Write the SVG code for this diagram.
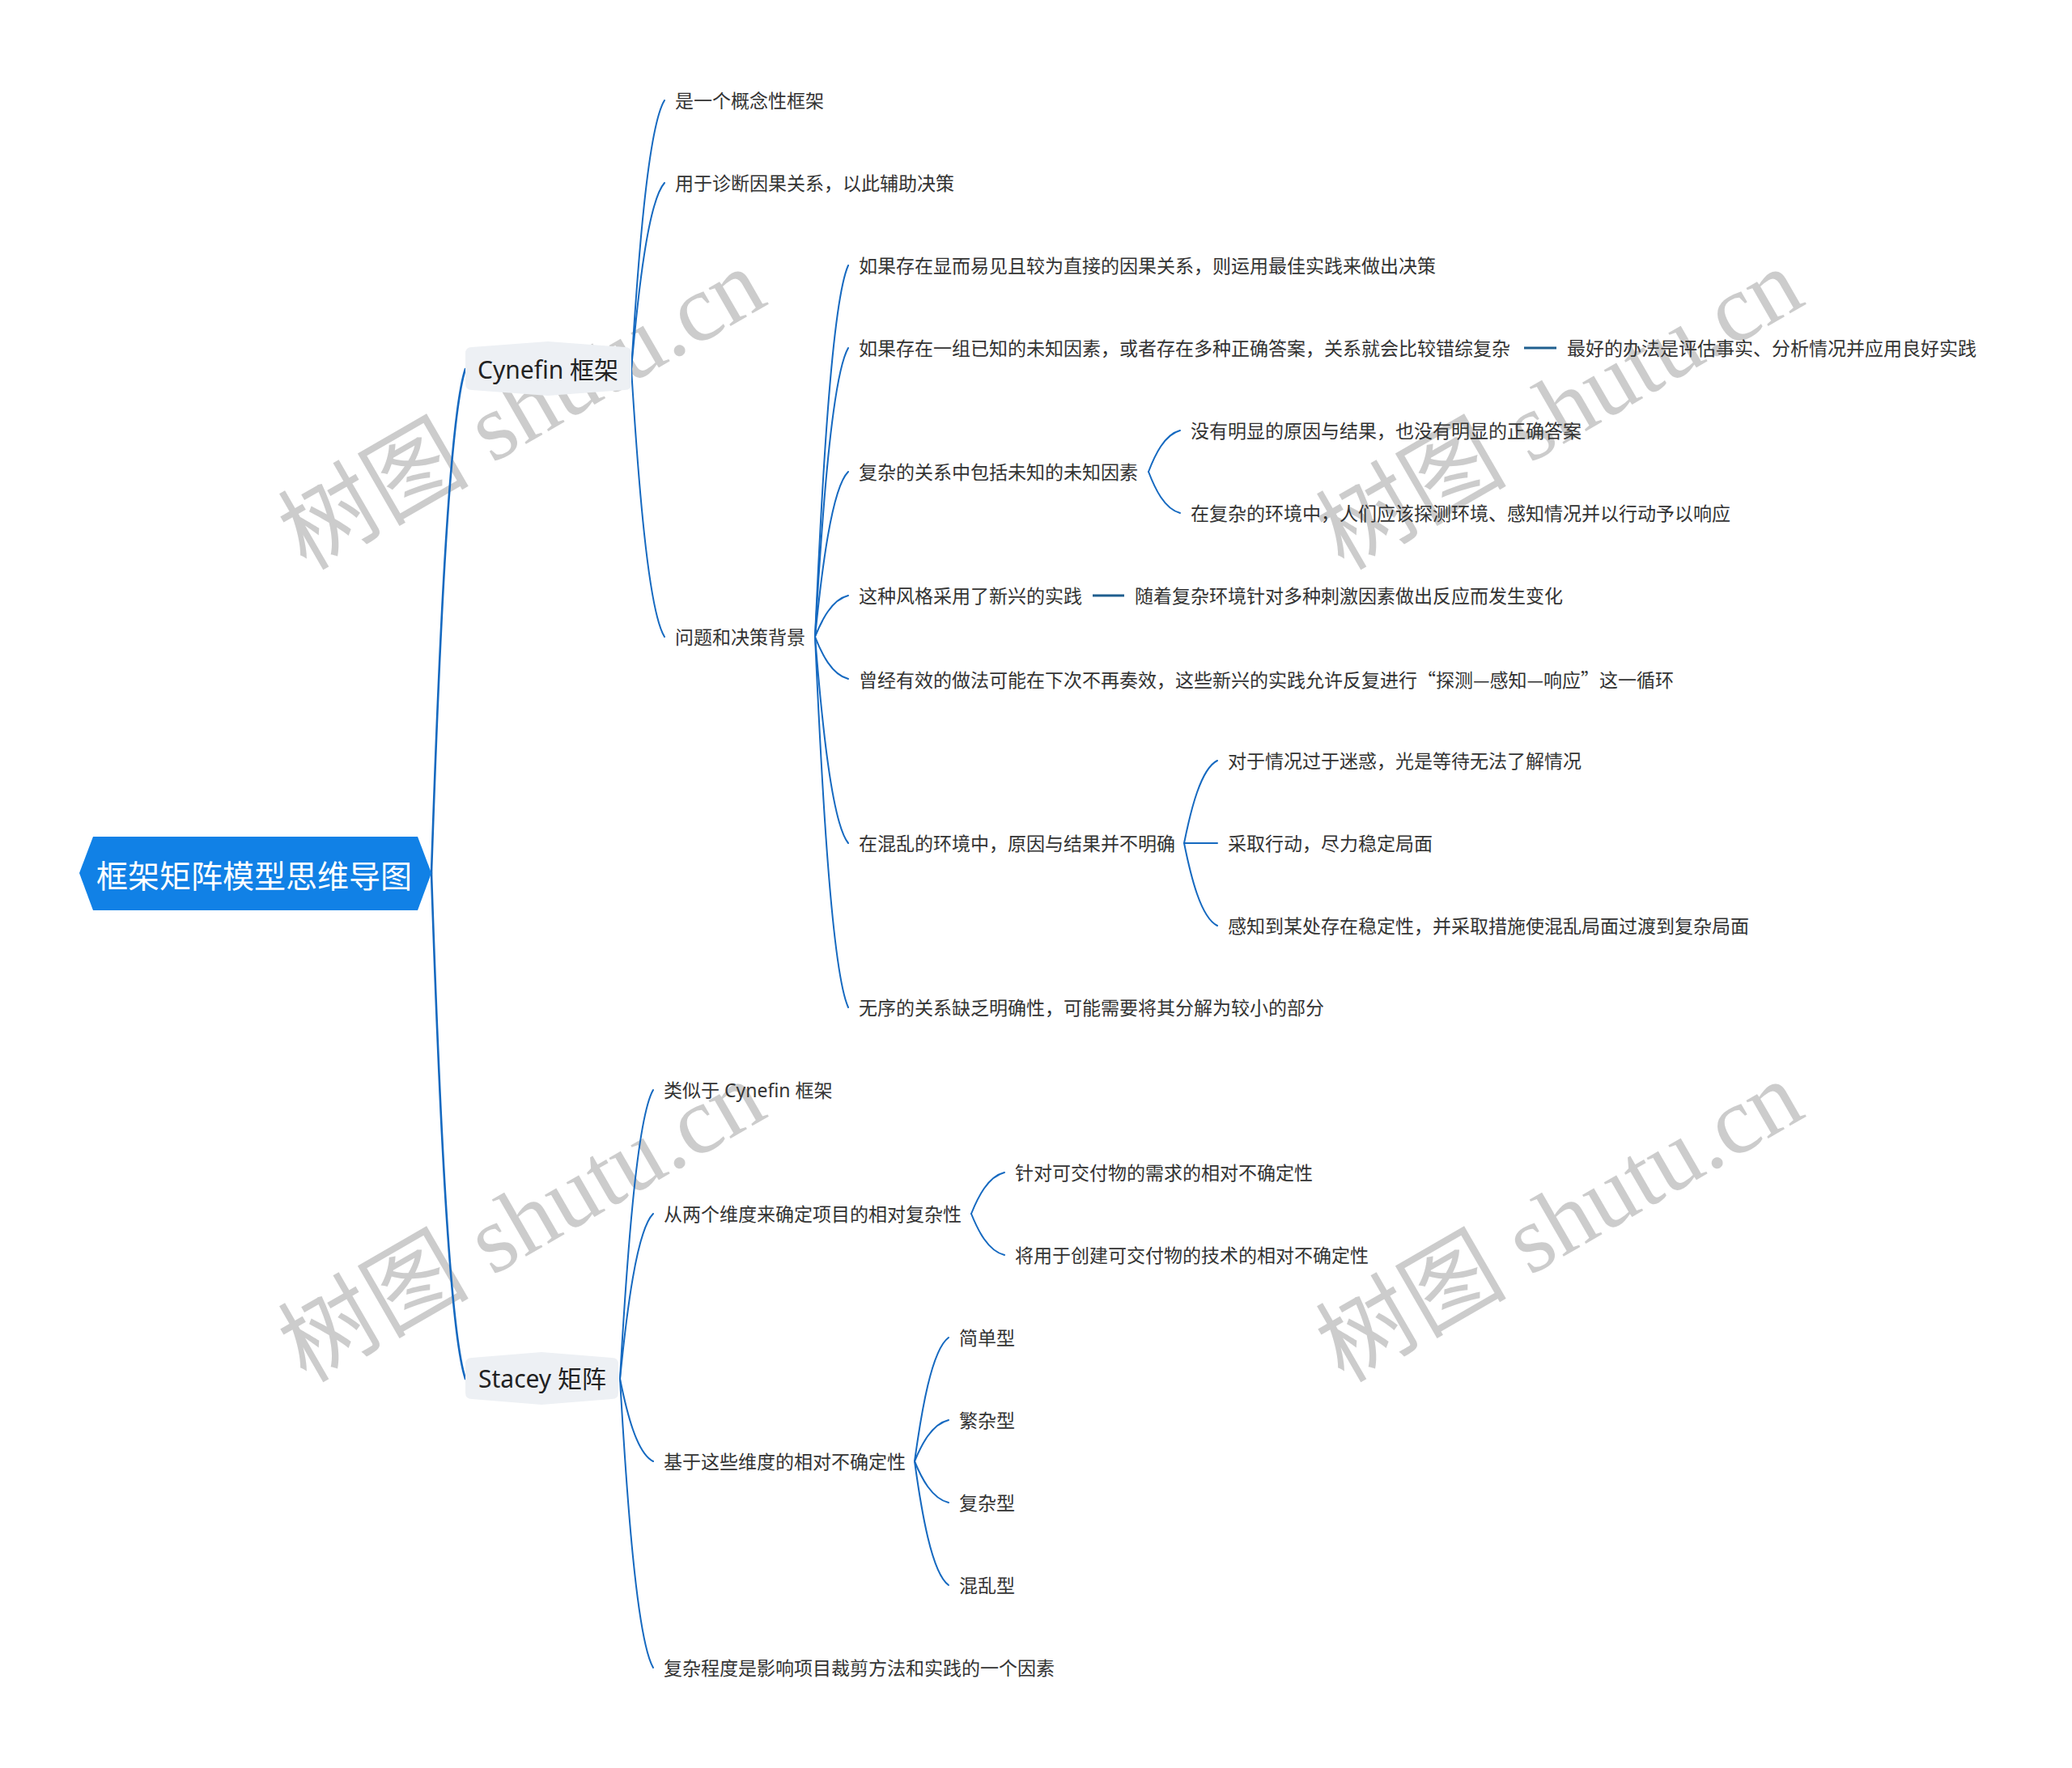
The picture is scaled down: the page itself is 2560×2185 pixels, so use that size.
<svg xmlns="http://www.w3.org/2000/svg" width="2560" height="2185" viewBox="0 0 2560 2185">
<style>
.wm{font-family:"Liberation Serif","Noto Sans CJK SC",serif;font-size:118px;fill:#c4c4c4;opacity:0.85}
.t{font-family:"Noto Sans","Noto Sans CJK SC",sans-serif;font-size:23px;fill:#333333;dominant-baseline:central}
.tc{font-family:"Noto Sans CJK SC",sans-serif}
.l1{font-family:"Noto Sans","Noto Sans CJK SC",sans-serif;font-size:30px;fill:#222222;dominant-baseline:central}
.root{font-family:"Noto Sans CJK SC",sans-serif;font-size:39px;fill:#ffffff;dominant-baseline:central;text-anchor:middle}
.c{fill:none;stroke:#1569c0;stroke-width:2;stroke-linecap:round}
.c0{fill:none;stroke:#1569c0;stroke-width:2.6;stroke-linecap:round}
.d{fill:none;stroke:#1f5f8f;stroke-width:3}
.box{fill:#edf0f4}
</style>
<rect width="2560" height="2185" fill="#ffffff"/>
<g id="watermark">
<text class="wm" transform="translate(645,506) rotate(-30)" text-anchor="middle" dominant-baseline="central">树图 shutu.cn</text>
<text class="wm" transform="translate(1927,506) rotate(-30)" text-anchor="middle" dominant-baseline="central">树图 shutu.cn</text>
<text class="wm" transform="translate(645,1510) rotate(-30)" text-anchor="middle" dominant-baseline="central">树图 shutu.cn</text>
<text class="wm" transform="translate(1927,1510) rotate(-30)" text-anchor="middle" dominant-baseline="central">树图 shutu.cn</text>
</g>
<g id="connectors">
<path class="c0" d="M533,1079 C541.4,829.8 554,518.3 575,456"/>
<path class="c0" d="M533,1079 C541.4,1329 554,1641.5 575,1704"/>
<path class="c" d="M780,456 C788.2,323.2 800.5,157.2 821,124"/>
<path class="c" d="M780,456 C788.2,364 800.5,249 821,226"/>
<path class="c" d="M780,456 C788.2,588.4 800.5,753.9 821,787"/>
<path class="c" d="M1007,787 C1015.2,603.4 1027.5,373.9 1048,328"/>
<path class="c" d="M1007,787 C1015.2,644.2 1027.5,465.7 1048,430"/>
<path class="c" d="M1007,787 C1015.2,705.4 1027.5,603.4 1048,583"/>
<path class="c" d="M1007,787 C1015.2,766.6 1027.5,741.1 1048,736"/>
<path class="c" d="M1007,787 C1015.2,807.8 1027.5,833.8 1048,839"/>
<path class="c" d="M1007,787 C1015.2,889 1027.5,1016.5 1048,1042"/>
<path class="c" d="M1007,787 C1015.2,970.2 1027.5,1199.2 1048,1245"/>
<path class="c" d="M1419,583 C1426.8,562.6 1438.5,537.1 1458,532"/>
<path class="c" d="M1419,583 C1426.8,603.4 1438.5,628.9 1458,634"/>
<path class="c" d="M1463,1042 C1471.2,1001.2 1483.5,950.2 1504,940"/>
<path class="c" d="M1463,1042 L1504,1042"/>
<path class="c" d="M1463,1042 C1471.2,1082.8 1483.5,1133.8 1504,1144"/>
<path class="c" d="M766,1704 C774.2,1561.2 786.5,1382.7 807,1347"/>
<path class="c" d="M766,1704 C774.2,1622.4 786.5,1520.4 807,1500"/>
<path class="c" d="M766,1704 C774.2,1744.8 786.5,1795.8 807,1806"/>
<path class="c" d="M766,1704 C774.2,1846.8 786.5,2025.3 807,2061"/>
<path class="c" d="M1200,1500 C1208.2,1479.6 1220.5,1454.1 1241,1449"/>
<path class="c" d="M1200,1500 C1208.2,1520.4 1220.5,1545.9 1241,1551"/>
<path class="c" d="M1130,1806 C1138.4,1744.8 1151,1668.3 1172,1653"/>
<path class="c" d="M1130,1806 C1138.4,1785.6 1151,1760.1 1172,1755"/>
<path class="c" d="M1130,1806 C1138.4,1826.4 1151,1851.9 1172,1857"/>
<path class="c" d="M1130,1806 C1138.4,1867.2 1151,1943.7 1172,1959"/>
<path class="d" d="M1883,430 L1923,430"/>
<path class="d" d="M1350,736 L1389,736"/>
</g>
<g id="root">
<polygon points="98,1079 115,1034 516,1034 533,1079 516,1125 115,1125" fill="#1181e6"/>
<text class="root" x="314" y="1080">框架矩阵模型思维导图</text>
</g>
<g id="cynefin">
<path class="box" d="M583,429 L677,422 L772,429 Q780,429 780,437 L780,474 Q780,482 772,482 L677,489 L583,482 Q575,482 575,474 L575,437 Q575,429 583,429 Z"/>
<text class="l1" x="590" y="456">Cynefin 框架</text>
</g>
<g id="stacey">
<path class="box" d="M583,1678 L669,1671 L756,1678 Q764,1678 764,1686 L764,1721 Q764,1729 756,1729 L669,1736 L583,1729 Q575,1729 575,1721 L575,1686 Q575,1678 583,1678 Z"/>
<text class="l1" x="591" y="1703">Stacey 矩阵</text>
</g>
<g id="n1"><text class="t" x="834" y="124">是一个概念性框架</text></g>
<g id="n2"><text class="t" x="834" y="226">用于诊断因果关系，以此辅助决策</text></g>
<g id="n3"><text class="t" x="834" y="787">问题和决策背景</text></g>
<g id="n3a"><text class="t" x="1061" y="328">如果存在显而易见且较为直接的因果关系，则运用最佳实践来做出决策</text></g>
<g id="n3b"><text class="t" x="1061" y="430">如果存在一组已知的未知因素，或者存在多种正确答案，关系就会比较错综复杂</text></g>
<g id="n3b1"><text class="t" x="1936" y="430">最好的办法是评估事实、分析情况并应用良好实践</text></g>
<g id="n3c"><text class="t" x="1061" y="583">复杂的关系中包括未知的未知因素</text></g>
<g id="n3c1"><text class="t" x="1471" y="532">没有明显的原因与结果，也没有明显的正确答案</text></g>
<g id="n3c2"><text class="t" x="1471" y="634">在复杂的环境中，人们应该探测环境、感知情况并以行动予以响应</text></g>
<g id="n3d"><text class="t" x="1061" y="736">这种风格采用了新兴的实践</text></g>
<g id="n3d1"><text class="t" x="1402" y="736">随着复杂环境针对多种刺激因素做出反应而发生变化</text></g>
<g id="n3e"><text class="t tc" x="1061" y="839">曾经有效的做法可能在下次不再奏效，这些新兴的实践允许反复进行“探测—感知—响应”这一循环</text></g>
<g id="n3f"><text class="t" x="1061" y="1042">在混乱的环境中，原因与结果并不明确</text></g>
<g id="n3f1"><text class="t" x="1517" y="940">对于情况过于迷惑，光是等待无法了解情况</text></g>
<g id="n3f2"><text class="t" x="1517" y="1042">采取行动，尽力稳定局面</text></g>
<g id="n3f3"><text class="t" x="1517" y="1144">感知到某处存在稳定性，并采取措施使混乱局面过渡到复杂局面</text></g>
<g id="n3g"><text class="t" x="1061" y="1245">无序的关系缺乏明确性，可能需要将其分解为较小的部分</text></g>
<g id="s1"><text class="t" x="820" y="1347">类似于 Cynefin 框架</text></g>
<g id="s2"><text class="t" x="820" y="1500">从两个维度来确定项目的相对复杂性</text></g>
<g id="s2a"><text class="t" x="1254" y="1449">针对可交付物的需求的相对不确定性</text></g>
<g id="s2b"><text class="t" x="1254" y="1551">将用于创建可交付物的技术的相对不确定性</text></g>
<g id="s3"><text class="t" x="820" y="1806">基于这些维度的相对不确定性</text></g>
<g id="s3a"><text class="t" x="1185" y="1653">简单型</text></g>
<g id="s3b"><text class="t" x="1185" y="1755">繁杂型</text></g>
<g id="s3c"><text class="t" x="1185" y="1857">复杂型</text></g>
<g id="s3d"><text class="t" x="1185" y="1959">混乱型</text></g>
<g id="s4"><text class="t" x="820" y="2061">复杂程度是影响项目裁剪方法和实践的一个因素</text></g>
</svg>
